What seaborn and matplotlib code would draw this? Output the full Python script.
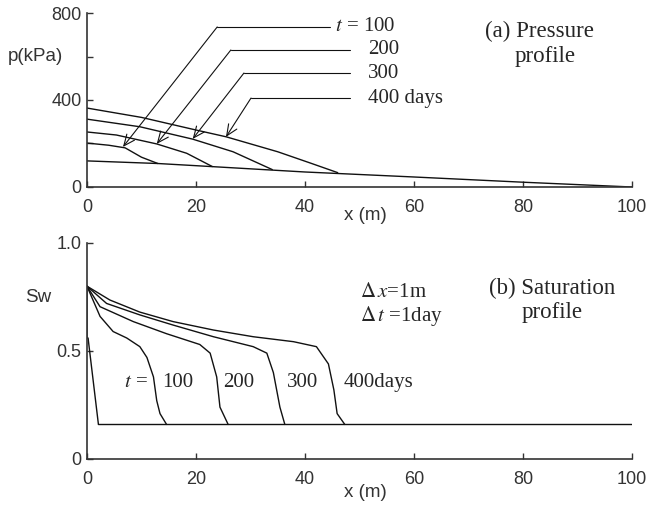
import pandas as pd
import matplotlib
matplotlib.use("Agg")
import matplotlib.pyplot as plt
import seaborn as sns

# ---- data ----
# (a) pressure profile, kPa
p_base_x = [0, 13, 20, 40, 60, 80, 100]
p_base_y = [120, 108, 98, 69, 46, 22, 0]
p100_x = [0, 4, 7, 10, 13]
p100_y = [202, 192, 180, 137, 108]
p200_x = [0, 5.4, 12.8, 18.3, 23]
p200_y = [253, 239, 198, 155, 94]
p300_x = [0, 9.7, 19.4, 26.8, 34]
p300_y = [312, 277, 220, 162, 80]
p400_x = [0, 10, 20, 25.5, 35, 41, 46]
p400_y = [363, 320, 262, 231, 162, 110, 66]

# (b) saturation profile
s_base_x = [2.1, 100]
s_base_y = [0.16, 0.16]
s0_x = [0, 0, 0.2, 2.1]
s0_y = [0.80, 0.56, 0.56, 0.16]
s100_x = [0, 2.4, 4.8, 7.3, 9.7, 11, 12.2, 12.8, 13.4, 14.6]
s100_y = [0.80, 0.66, 0.59, 0.56, 0.52, 0.47, 0.38, 0.27, 0.21, 0.16]
s200_x = [0, 2.4, 8.5, 14.6, 20.7, 22.6, 23.8, 24.4, 25.9]
s200_y = [0.80, 0.705, 0.636, 0.58, 0.53, 0.49, 0.38, 0.24, 0.16]
s300_x = [0, 3.6, 9.7, 15.8, 23.2, 30.5, 33, 34.2, 35.4, 36.3]
s300_y = [0.80, 0.72, 0.667, 0.62, 0.566, 0.52, 0.49, 0.40, 0.24, 0.16]
s400_x = [0, 4.2, 9.7, 15.8, 23.2, 30.5, 37.9, 42.1, 44.3, 45.3, 45.9, 47.3]
s400_y = [0.80, 0.736, 0.68, 0.636, 0.597, 0.566, 0.543, 0.52, 0.44, 0.32, 0.21, 0.16]

# arrow labels in panel (a): text, knee, tip, line end
arrow_text = ["200", "300", "400 days"]
arrow_knee = [(23.9, 736), (26.4, 630), (28.8, 524), (30.1, 409)]
arrow_tip = [(6.6, 184), (12.8, 198), (19.4, 221), (25.5, 230)]
arrow_end = [44.6, 48.3, 48.3, 48.3]

x_ticks = [0, 20, 40, 60, 80, 100]


def long_df(curves):
    rows = []
    for name, xs, ys in curves:
        for x, y in zip(xs, ys):
            rows.append({"curve": name, "x": x, "y": y})
    return pd.DataFrame(rows)


pres = long_df([("base", p_base_x, p_base_y), ("100", p100_x, p100_y),
                ("200", p200_x, p200_y), ("300", p300_x, p300_y),
                ("400", p400_x, p400_y)])
sat = long_df([("base", s_base_x, s_base_y), ("0", s0_x, s0_y),
               ("100", s100_x, s100_y), ("200", s200_x, s200_y),
               ("300", s300_x, s300_y), ("400", s400_x, s400_y)])

sns.set_style("ticks")
plt.rcParams["font.family"] = ["Liberation Sans", "DejaVu Sans"]
axc = "#333333"
serif = ["Liberation Serif", "DejaVu Serif"]

fig = plt.figure(figsize=(6.51, 5.08), dpi=100)
ax1 = fig.add_axes([0.1336, 0.6319, 0.8372, 0.3425])
ax2 = fig.add_axes([0.1336, 0.0965, 0.8372, 0.4252])

for ax, df, ylab_y in [(ax1, pres, -0.161), (ax2, sat, -0.157)]:
    sns.lineplot(data=df, x="x", y="y", units="curve", estimator=None, sort=False,
                 color="#111111", lw=1.0, ax=ax)
    ax.set_xlim(0, 100)
    ax.set_xticks(x_ticks)
    ax.set_xticklabels([str(v) for v in x_ticks])
    ax.set_xlabel("")
    ax.set_ylabel("")
    ax.text(0.51, ylab_y, "x (m)", transform=ax.transAxes, fontsize=13.5, color=axc,
            ha="center", va="center")
    sns.despine(ax=ax)
    for s in ["left", "bottom"]:
        ax.spines[s].set_color(axc)
        ax.spines[s].set_linewidth(1.2)
    ax.tick_params(direction="in", length=4, width=1, colors=axc, labelsize=13)
    ax.tick_params(axis="x", pad=9)
    ax.tick_params(axis="y", pad=4)

ax1.set_ylim(0, 800)
ax1.set_yticks([0, 200, 400, 600, 800])
ax1.set_yticklabels(["0", "", "400", "", "800"])
ax2.set_ylim(0, 1.0)
ax2.set_yticks([0, 0.5, 1.0])
ax2.set_yticklabels(["0", "0.5", "1.0"])

fig.text(0.054, 0.888, "p(kPa)", fontsize=13.5, color=axc, ha="center", va="center")
fig.text(0.058, 0.415, "Sw", fontsize=13.5, color=axc, ha="center", va="center")

# panel (a) annotations
for knee, tip, xe in zip(arrow_knee, arrow_tip, arrow_end):
    ax1.plot([knee[0], xe], [knee[1], knee[1]], color="#111111", lw=0.8)
    ax1.annotate("", xy=tip, xytext=knee,
                 arrowprops=dict(arrowstyle="->,head_length=0.8,head_width=0.35",
                                 color="#111111", lw=0.8, shrinkA=0, shrinkB=0))
ax1.text(45.5, 736, r"$t$ = 100", fontsize=15, family=serif, va="center", ha="left",
         math_fontfamily="stix")
for txt, knee in zip(arrow_text, arrow_knee[1:]):
    ax1.text(51.6, knee[1], txt, fontsize=15, family=serif, va="center", ha="left")
ax1.text(83, 713, "(a) Pressure", fontsize=16.5, family=serif, va="center", ha="center")
ax1.text(84, 602, "profile", fontsize=16.5, family=serif, va="center", ha="center")

# panel (b) annotations
ax2.text(11.2, 0.356, r"$t$ =", fontsize=15, family=serif, va="center", ha="right",
         math_fontfamily="stix")
ax2.text(13.8, 0.356, "100", fontsize=15, family=serif, va="center", ha="left")
ax2.text(25.0, 0.356, "200", fontsize=15, family=serif, va="center", ha="left")
ax2.text(36.7, 0.356, "300", fontsize=15, family=serif, va="center", ha="left")
ax2.text(47.0, 0.356, "400days", fontsize=15, family=serif, va="center", ha="left")
ax2.text(50.1, 0.77, r"$\mathit{\Delta}\,x$=1m", fontsize=15, family=serif, va="center",
         ha="left", math_fontfamily="stix")
ax2.text(50.1, 0.66, r"$\mathit{\Delta}\,t$ =1day", fontsize=15, family=serif, va="center",
         ha="left", math_fontfamily="stix")
ax2.text(85.3, 0.79, "(b) Saturation", fontsize=16.5, family=serif, va="center", ha="center")
ax2.text(85.3, 0.68, "profile", fontsize=16.5, family=serif, va="center", ha="center")

fig.savefig("out.png", dpi=100)
